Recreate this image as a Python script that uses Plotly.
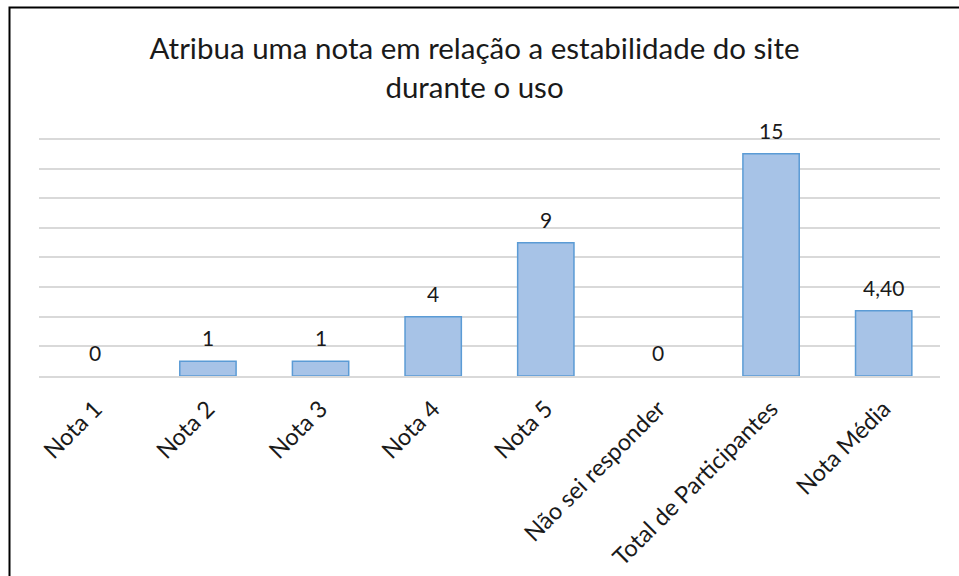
import plotly.graph_objects as go

categories = ["Nota 1", "Nota 2", "Nota 3", "Nota 4", "Nota 5",
              "Não sei responder", "Total de Participantes", "Nota Média"]
values = [0, 1, 1, 4, 9, 0, 15, 4.40]
labels = ["0", "1", "1", "4", "9", "0", "15", "4,40"]
title_text = "Atribua uma nota em relação a estabilidade do site<br>durante o uso"

W, H = 959, 576
L, R, T, B = 39, 19, 136, 200
pw, ph = W - L - R, H - T - B
DARK = "#1a1a1a"

fig = go.Figure(go.Bar(
    x=categories, y=values,
    marker=dict(color="#a7c3e7",
                line=dict(color="#5b9bd5", width=[0 if v == 0 else 1.5 for v in values])),
    width=0.5, cliponaxis=False, hoverinfo="x+y",
))

for c, v, t in zip(categories, values, labels):
    fig.add_annotation(x=c, y=v, text=t, showarrow=False, yanchor="bottom",
                       yshift=9, font=dict(family="Lato", size=21, color=DARK))

fig.update_layout(
    width=W, height=H,
    margin=dict(l=L, r=R, t=T, b=B, autoexpand=False),
    paper_bgcolor="white", plot_bgcolor="white",
    showlegend=False,
    font=dict(family="Lato", color=DARK),
    title=dict(text=title_text, x=0.4948, xanchor="center", y=0.897, yanchor="middle",
               font=dict(family="Lato", size=29.5, color=DARK)),
    xaxis=dict(tickangle=-45, tickfont=dict(family="Lato", size=23.5, color=DARK),
               showline=True, linecolor="#d9d9d9", linewidth=1.5, ticks="",
               showgrid=False, ticklabelstandoff=8, automargin=False),
    yaxis=dict(range=[0, 16.2], dtick=2, showticklabels=False, showgrid=True,
               gridcolor="#d9d9d9", gridwidth=1.5, zeroline=False, ticks="",
               automargin=False),
    shapes=[dict(type="rect", xref="paper", yref="paper",
                 x0=(9.5 - L) / pw, x1=1.2, y0=-1.0, y1=(H - B - 7.5) / ph,
                 line=dict(color="black", width=2), fillcolor="rgba(0,0,0,0)",
                 layer="above")],
)

fig.write_html("out.html", config={"displayModeBar": False},
               post_script="document.body.style.margin='0';")
